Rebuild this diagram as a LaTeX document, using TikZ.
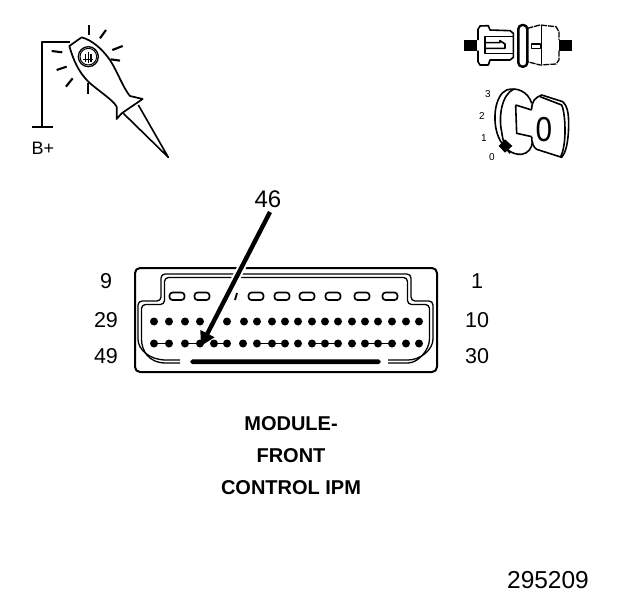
\documentclass[tikz,border=0pt]{standalone}
\usepackage{fontspec}
\setmainfont{Liberation Sans}
\usetikzlibrary{arrows.meta,calc}
\tikzset{
 lab/.style={inner sep=0pt,font=\fontsize{21.5}{21.5}\selectfont},
 tiny/.style={inner sep=0pt,font=\fontsize{10}{10}\selectfont},
 title/.style={inner sep=0pt,font=\fontsize{20}{20}\selectfont\bfseries},
 ln/.style={draw=black,line width=1.6pt,line join=round},
 pin/.style={fill=black,circle,inner sep=0pt,minimum size=8pt},
 slot/.style={draw=black,line width=1.7pt,rounded corners=3pt},
}
\begin{document}
\begin{tikzpicture}[x=1pt,y=-1pt]
\useasboundingbox (0,0) rectangle (624,600);
% tester
\begin{scope}[shift={(20,10)},x=0.3333pt,y=-0.3333pt]
\coordinate (gnd) at (66,350);
\draw[ln,line width=1.9pt] (150,95) -- (66,95) -- (gnd);
\draw[ln,line width=1.9pt] (36,350) -- (100,350);
\draw[ln,line width=1.7pt] (148,108) -- (185,82) .. controls (215,90) and (245,115) .. (270,150)
  .. controls (295,190) and (310,235) .. (330,258) -- (368,267) -- (305,310) -- (290,327) -- (290,290)
  .. controls (280,270) and (225,235) .. (205,215) .. controls (175,185) and (160,150) .. (148,108) -- cycle;
\draw[ln] (355,285) -- (445,442) -- (310,310);
\draw[ln,line width=1.3pt] (205,140) circle (30);
\draw[ln,line width=1pt] (205,140) circle (25);
\draw[ln,line width=1.3pt] (197,132) -- (197,155) (205,125) -- (205,158) (213,132) -- (213,155) (190,148) -- (220,148);
\foreach \a/\b/\c/\d in {207/45/207/75,258/60/240/85,308/108/277/120,300/152/272/148,95/123/127/127,110/180/140/170,158/205/138/230,205/220/205/253}
  \draw[line width=2.1pt] (\a,\b) -- (\c,\d);
\end{scope}
\node[lab,font=\fontsize{18}{18}\selectfont] (bplus) at (43,148) {B+};
% connector icon and key
\begin{scope}[shift={(450,20)},x=0.3333pt,y=-0.3333pt]
\fill (42,60) rectangle (80,92);
\fill (327,60) rectangle (365,92);
\draw[ln] (84,60) -- (84,28) -- (90,18) -- (115,17) -- (120,30) -- (180,32) -- (190,40) -- (190,112) -- (180,120) -- (120,120) -- (115,135) -- (90,135) -- (84,125) -- (84,92);
\draw[ln] (188,50) -- (105,50) -- (105,100) -- (188,100);
\draw[ln] (105,68) -- (150,68) -- (150,62) -- (165,72) -- (165,85) -- (105,85);
\draw[ln,line width=2.4pt,rounded corners=4pt] (205,15) rectangle (232,140);
\draw[ln,line width=1.3pt,dash pattern=on 6pt off 1pt] (232,25) -- (270,15) -- (318,20) -- (327,35) -- (327,60);
\draw[ln,line width=1.3pt,dash pattern=on 6pt off 1pt] (327,92) -- (327,120) -- (318,132) -- (270,135) -- (232,125);
\draw[ln,line width=1.3pt] (275,18) -- (275,132);
\draw[ln,line width=1.3pt] (245,72) rectangle (272,85);
% key
\draw[ln] (245,250) .. controls (235,215) and (200,200) .. (170,210)
  .. controls (135,225) and (125,300) .. (145,350) .. controls (160,385) and (185,405) .. (215,403)
  .. controls (235,400) and (245,385) .. (248,365);
\draw[ln] (190,208) .. controls (155,225) and (145,290) .. (155,335) .. controls (158,360) and (165,385) .. (180,400);
\draw[ln] (197,255) -- (245,270) (197,255) -- (200,340) -- (245,350);
\draw[ln] (245,268) .. controls (245,245) and (255,232) .. (275,225) -- (338,245) .. controls (355,260) and (358,290) .. (355,340)
  .. controls (352,380) and (345,400) .. (335,412) -- (260,388) .. controls (250,380) and (245,370) .. (245,350);
\draw[ln] (270,230) -- (335,255) .. controls (345,275) and (348,340) .. (342,375) .. controls (340,390) and (335,405) .. (332,410);
\fill (165,358) -- (187,378) -- (165,398) -- (146,378) -- cycle;
\end{scope}
\node[tiny] (k3) at (488,94) {3};
\node[tiny] (k2) at (482,116) {2};
\node[tiny] (k1) at (484,138) {1};
\node[tiny] (k0) at (492,157) {0};
\node[inner sep=0pt,font=\fontsize{33}{33}\selectfont,xscale=0.9,yscale=1.05] (kzero) at (544,130) {0};
% module
\draw[ln,line width=2pt,rounded corners=5pt] (135,268) rectangle (437,372);
\draw[ln,line width=1.3pt,rounded corners=4pt] (180,360) -- (170,360) .. controls (150,360) and (138,350) .. (138,335) -- (138,301) -- (161,301) -- (161,274) -- (411,274) -- (411,301) -- (433,301) -- (433,335) .. controls (433,350) and (420,360) .. (404,360) -- (388,360);
\draw[ln,line width=1.3pt,rounded corners=4pt] (180,363) -- (170,363) .. controls (148,363) and (141.5,350) .. (141.5,335) -- (141.5,304.5) -- (164.5,304.5) -- (164.5,277.5) -- (407.5,277.5) -- (407.5,304.5) -- (429.5,304.5) -- (429.5,335) .. controls (429.5,350) and (418,363) .. (404,363) -- (388,363);
\draw[ln,line width=1.3pt,rounded corners=1.5pt,fill=black] (191,360) rectangle (380,363.5);
\foreach \x in {177,202,256,282,307,333,362,390}
  \draw[slot] (\x-7.5,292.5) rectangle (\x+7.5,300);
% pointer halo
\node[inner sep=0pt,font=\fontsize{24}{24}\selectfont] (n46) at (268,199) {46};
\coordinate (tip) at (201,346);
\coordinate (tail) at (270,212);
\draw[white,line width=8.5pt] (tail) -- (tip);
\draw[line width=1.8pt] (237,293) -- (235,300);
% pins row 1
\foreach \x in {154,169,185,200,227,244,257,272,285,298,312,325,338,352,365,378,392,406,419}
  \node[pin] at (\x,321.5) {};
% pins row 2
\foreach[count=\i] \x in {154,169,185,200,214,227,243,257,272,285,298,312,325,338,352,365,378,392,406,419}
  \node[pin] (p\i) at (\x,343.5) {};
\draw[line width=1.7pt] (p1)--(p2) (p3)--(p4) (p5)--(p6) (p8)--(p10) (p12)--(p14) (p16)--(p18);
% pointer
\draw[line width=4.4pt,-{Triangle[length=14pt,width=15pt]}] (tail) -- (tip);
% labels
\node[lab] (l9) at (106,281) {9};
\node[lab] (l1) at (477,281) {1};
\node[lab] (l29) at (106,320) {29};
\node[lab] (l10) at (477,320) {10};
\node[lab] (l49) at (106,356) {49};
\node[lab] (l30) at (477,356) {30};
\node[title] (t1) at (291,424) {MODULE-};
\node[title] (t2) at (291,456) {FRONT};
\node[title] (t3) at (291,488) {CONTROL IPM};
\node[inner sep=0pt,font=\fontsize{24.5}{24.5}\selectfont] (fig) at (548,580) {295209};
\end{tikzpicture}
\end{document}
